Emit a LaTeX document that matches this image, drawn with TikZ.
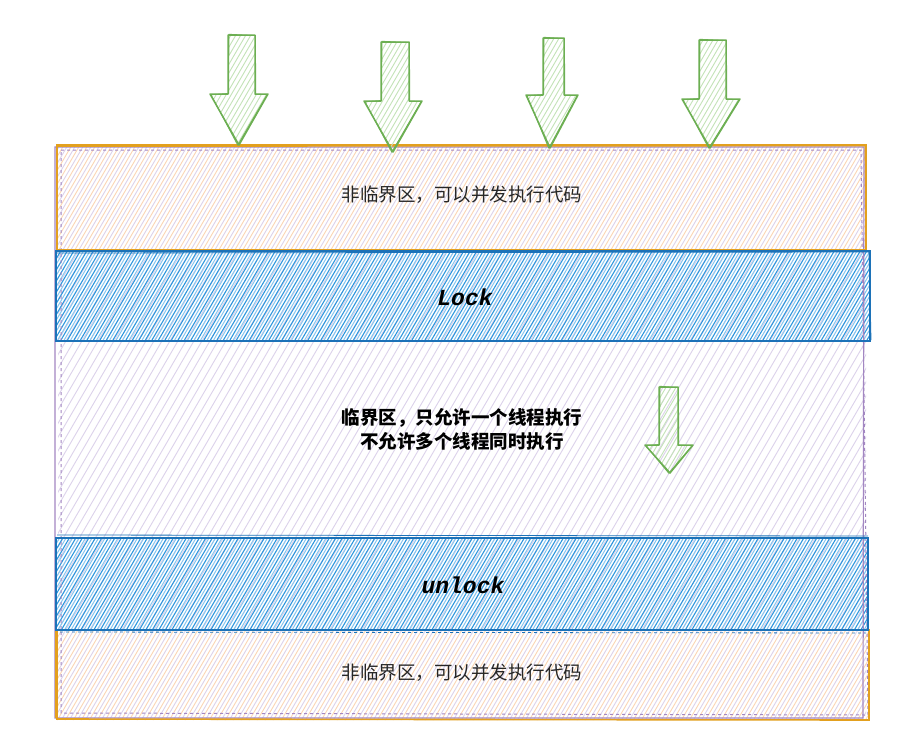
\documentclass[tikz,border=0pt]{standalone}
\usepackage{fontspec}
\newfontfamily\cjk{Noto Sans CJK SC}
\newfontfamily\monof{Liberation Mono}
\definecolor{orng}{HTML}{E3A01E}
\definecolor{orngfill}{HTML}{FBD6B4}
\definecolor{purp}{HTML}{A387C2}
\definecolor{purpfill}{HTML}{DCD2EB}
\definecolor{blu}{HTML}{1C72B8}
\definecolor{blufill}{HTML}{2F98DE}
\definecolor{blufill2}{HTML}{86C6EF}
\definecolor{grn}{HTML}{6CAF52}
\definecolor{grnfill}{HTML}{C4E3B8}
\newcommand{\hatchlines}[4]{% count, spacing, width, offset
  \foreach \i [evaluate=\i as \xx using -470+#4+\i*#2] in {0,...,#1}
    \draw[line width=#3] (\xx,750) -- ++(445,-765);}
\newcommand{\blockarrow}[8]{%
  \begin{scope}
    \clip (#1,#3) -- (#2,#3) -- (#2,#4) -- (#6,#4) -- (#7,#8) -- (#5,#4) -- (#1,#4) -- cycle;
    \begin{scope}[grnfill]\hatchlines{240}{5}{0.9}{0}\end{scope}
  \end{scope}
  \draw[arrowline] (#1,#3) -- (#2,#3) -- (#2,#4) -- (#6,#4) -- (#7,#8) -- (#5,#4) -- (#1,#4) -- cycle;
  \draw[arrowline,line width=0.9] ([shift={(0.9,-0.7)}]#1,#3) -- ([shift={(0.5,0.6)}]#2,#3) -- ([shift={(0.6,0.4)}]#2,#4) -- ([shift={(-0.8,0.5)}]#6,#4) -- ([shift={(-1.2,0.2)}]#7,#8) -- ([shift={(1,0.7)}]#5,#4) -- ([shift={(0.6,-0.5)}]#1,#4) -- cycle;}
\tikzset{
  arrowline/.style={grn,line width=1.5,line join=round},
  orngline/.style={orng,line width=1.6},
  purpline/.style={purp,line width=1.2},
  bluline/.style={blu,line width=1.6},
  cjklabel/.style={font=\cjk\fontsize{18.5}{24}\selectfont,text=black!85,align=center},
  codelabel/.style={font=\monof\bfseries\itshape\fontsize{23}{26}\selectfont,text=black}
}
\begin{document}
\begin{tikzpicture}[x=1pt,y=-1pt]
\useasboundingbox (0,0) rectangle (924,737);
\fill[white] (0,0) rectangle (924,737);
% purple big region hachure
\begin{scope}
  \clip (58,146) rectangle (866,719);
  \begin{scope}[purpfill]\hatchlines{180}{8}{0.9}{2}\end{scope}
\end{scope}
% orange regions hachure
\begin{scope}
  \clip (57,145) rectangle (866,250) (57,630) rectangle (869,720);
  \begin{scope}[orngfill]\hatchlines{180}{8}{0.9}{6}\end{scope}
\end{scope}
% blue bands hachure
\begin{scope}
  \clip (56,251) rectangle (870,341) (56,538) rectangle (868,630);
  \begin{scope}[blufill]\hatchlines{240}{6.5}{1.1}{0}\end{scope}
  \begin{scope}[blufill2]\hatchlines{240}{6.5}{1.0}{3.2}\end{scope}
\end{scope}
% purple outlines
\draw[purpline] (55,147) -- (864,147) -- (863,718) -- (55,718) -- cycle;
\draw[purpline,dashed,line width=1] (61,150) -- (861,150) -- (868,715) -- (61,713) -- cycle;
% orange outlines
\draw[orngline] (57,145) rectangle (866,250);
\draw[orngline,line width=0.8] (58,146.5) -- (865,146) -- (866,249);
\draw[orngline] (57,630) -- (869,630) -- (869,720) -- (57,719) -- cycle;
\draw[orngline,line width=0.8] (55,631) -- (55,718);
% blue outlines
\draw[bluline] (56,251) rectangle (870,341);
\draw[bluline,line width=0.8] (57,253) -- (869,252) -- (871,340);
\draw[bluline] (56,538) rectangle (868,630);
\draw[bluline,line width=0.8] (57,535) -- (868,536);
\draw[bluline,line width=0.8,dashed] (60,632) -- (866,633);
% green arrows
\blockarrow{228}{255}{35}{94}{210}{268}{239}{145}
\blockarrow{381}{409}{42}{101}{364}{422}{393}{152}
\blockarrow{543}{564}{38}{95}{526}{578}{550}{148}
\blockarrow{699}{726}{40}{99}{682}{740}{710}{148}
\blockarrow{659}{678}{387}{445}{645}{693}{670}{473}
% texts
\node[cjklabel] (top) at (462,195) {非临界区，可以并发执行代码};
\node[codelabel] (lock) at (465,297) {Lock};
\node[cjklabel,font=\cjk\bfseries\fontsize{18.5}{24}\selectfont,text=black] (crit) at (462,429) {临界区，只允许一个线程执行\\不允许多个线程同时执行};
\node[codelabel] (unlock) at (463,585) {unlock};
\node[cjklabel] (bottom) at (462,673) {非临界区，可以并发执行代码};
\end{tikzpicture}
\end{document}
